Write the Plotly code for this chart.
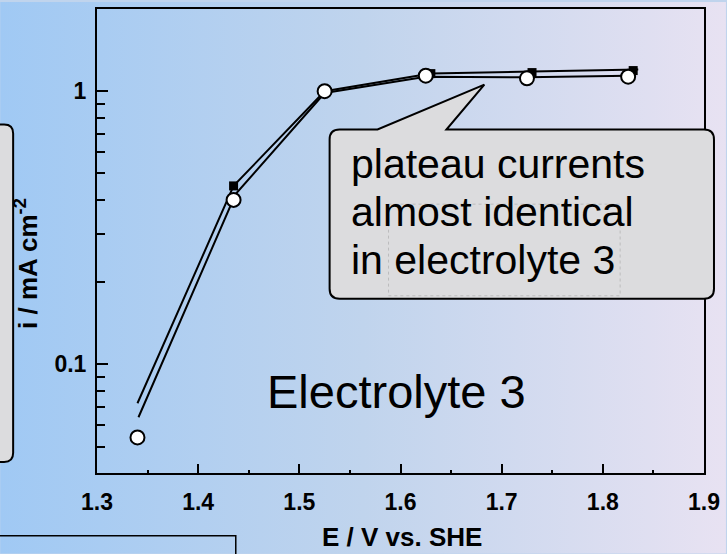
import base64
import plotly.graph_objects as go

# Measured current densities (mA cm^-2) vs. electrode potential (V vs. SHE)
E_circle = [1.34, 1.435, 1.525, 1.625, 1.725, 1.825]
i_circle = [0.054, 0.40, 1.00, 1.14, 1.115, 1.13]

E_square = [1.34, 1.435, 1.525, 1.63, 1.73, 1.83]
i_square = [0.053, 0.45, 1.00, 1.16, 1.17, 1.19]

# Connecting curves
E_curve_a = [1.34, 1.435, 1.525, 1.63, 1.73, 1.835]
i_curve_a = [0.072, 0.45, 1.00, 1.16, 1.18, 1.20]

E_curve_b = [1.341, 1.437, 1.525, 1.625, 1.725, 1.825]
i_curve_b = [0.064, 0.42, 0.985, 1.13, 1.125, 1.14]

x_ticks = [1.3, 1.4, 1.5, 1.6, 1.7, 1.8, 1.9]
x_tick_text = ["1.3", "1.4", "1.5", "1.6", "1.7", "1.8", "1.9"]
y_ticks = [0.1, 1]
y_tick_text = ["0.1", "1"]
y_minor = [0.05, 0.06, 0.07, 0.08, 0.09, 0.2, 0.3, 0.4, 0.5, 0.6, 0.7, 0.8, 0.9]

callout_lines = ["plateau currents", "almost identical", "in electrolyte 3"]
panel_label = "Electrolyte 3"

# page geometry (pixels)
WIDTH, HEIGHT = 727, 554
L, R, T, B = 97, 705, 7, 473
PW, PH = R - L, B - T


def px(x):
    return (x - L) / PW


def py(y):
    return (B - y) / PH


def rounded_box(x0, y0, x1, y1, r, notch=None):
    """SVG path (paper coords) for a rounded rectangle, optionally with a
    speech-bubble pointer on the top edge: notch = (xa, xb, tipx, tipy)."""
    pts = [f"M{px(x0 + r)},{py(y0)}"]
    if notch:
        xa, xb, tx, ty = notch
        pts += [f"L{px(xa)},{py(y0)}", f"L{px(tx)},{py(ty)}", f"L{px(xb)},{py(y0)}"]
    pts += [
        f"L{px(x1 - r)},{py(y0)}",
        f"Q{px(x1)},{py(y0)} {px(x1)},{py(y0 + r)}",
        f"L{px(x1)},{py(y1 - r)}",
        f"Q{px(x1)},{py(y1)} {px(x1 - r)},{py(y1)}",
        f"L{px(x0 + r)},{py(y1)}",
        f"Q{px(x0)},{py(y1)} {px(x0)},{py(y1 - r)}",
        f"L{px(x0)},{py(y0 + r)}",
        f"Q{px(x0)},{py(y0)} {px(x0 + r)},{py(y0)}",
        "Z",
    ]
    return " ".join(pts)


# horizontal blue-to-lavender backdrop
svg = (
    f'<svg xmlns="http://www.w3.org/2000/svg" width="{WIDTH}" height="{HEIGHT}">'
    '<defs><linearGradient id="g" x1="0" y1="0" x2="1" y2="0">'
    '<stop offset="0" stop-color="#a0c9f4"/>'
    '<stop offset="0.5" stop-color="#c0d4ed"/>'
    '<stop offset="1" stop-color="#e8e2f2"/>'
    '</linearGradient></defs>'
    f'<rect width="{WIDTH}" height="{HEIGHT}" fill="url(#g)"/></svg>'
)
bg_src = "data:image/svg+xml;base64," + base64.b64encode(svg.encode()).decode()

FONT = "Liberation Sans, Arial, sans-serif"

fig = go.Figure()

fig.add_trace(go.Scatter(x=E_curve_a, y=i_curve_a, mode="lines",
                         line=dict(color="black", width=2), showlegend=False))
fig.add_trace(go.Scatter(x=E_curve_b, y=i_curve_b, mode="lines",
                         line=dict(color="black", width=2), showlegend=False))
fig.add_trace(go.Scatter(x=E_square, y=i_square, mode="markers",
                         marker=dict(symbol="square", size=9, color="black"),
                         showlegend=False))
fig.add_trace(go.Scatter(x=E_circle, y=i_circle, mode="markers",
                         marker=dict(symbol="circle", size=14, color="white",
                                     line=dict(color="black", width=2)),
                         showlegend=False))

shapes = [
    # speech-bubble callout
    dict(type="path", xref="paper", yref="paper",
         path=rounded_box(330, 128, 715, 298, 10, notch=(378, 447, 485, 83)),
         fillcolor="#dcdcde", line=dict(color="black", width=2), layer="above"),
    # faint dotted panel inside the callout
    dict(type="rect", xref="paper", yref="paper",
         x0=px(389), x1=px(621), y0=py(203), y1=py(295),
         line=dict(color="rgba(150,150,150,0.45)", width=1, dash="dot"),
         layer="above"),
    # box at the left edge
    dict(type="path", xref="paper", yref="paper",
         path=rounded_box(-20, 123, 13, 462, 9),
         fillcolor="#dcdcde", line=dict(color="black", width=2), layer="above"),
    # outlined box at the bottom-left
    dict(type="rect", xref="paper", yref="paper",
         x0=px(-10), x1=px(236), y0=py(570), y1=py(536),
         line=dict(color="black", width=1.5), fillcolor="rgba(0,0,0,0)",
         layer="above"),
]

annotations = []
for k, line in enumerate(callout_lines):
    annotations.append(
        dict(text=line, xref="paper", yref="paper", x=px(349), y=py(138 + 48 * k),
             xanchor="left", yanchor="top", align="left", showarrow=False,
             font=dict(family=FONT, size=41, color="black")))

annotations += [
    dict(text=panel_label, xref="paper", yref="paper", x=px(397), y=py(391),
         xanchor="center", yanchor="middle", showarrow=False,
         font=dict(family=FONT, size=47, color="black")),
    dict(text="i / mA cm<sup>-2</sup>", xref="paper", yref="paper",
         x=px(27), y=py(263), xanchor="center", yanchor="middle",
         textangle=-90, showarrow=False,
         font=dict(family=FONT, size=26, color="black", weight="bold")),
    dict(text="E / V vs. SHE", xref="paper", yref="paper",
         x=px(403), y=py(554), xanchor="center", yanchor="bottom",
         showarrow=False,
         font=dict(family=FONT, size=26, color="black", weight="bold")),
]

fig.update_layout(
    width=WIDTH, height=HEIGHT,
    margin=dict(l=L, r=WIDTH - R, t=T, b=HEIGHT - B, pad=0),
    paper_bgcolor="#c0d4ed",
    plot_bgcolor="rgba(0,0,0,0)",
    shapes=shapes,
    annotations=annotations,
    images=[dict(source=bg_src, xref="paper", yref="paper",
                 x=px(0), y=py(0), sizex=WIDTH / PW, sizey=HEIGHT / PH,
                 xanchor="left", yanchor="top", sizing="stretch",
                 layer="below")],
    xaxis=dict(
        range=[1.3, 1.9], tickmode="array", tickvals=x_ticks, ticktext=x_tick_text,
        ticks="inside", ticklen=9, tickwidth=2, tickcolor="black",
        showline=True, linecolor="black", linewidth=2, mirror=True,
        showgrid=False, zeroline=False, ticklabelstandoff=7,
        tickfont=dict(family=FONT, size=23, color="black", weight="bold"),
        minor=dict(dtick=0.05, tick0=1.3, ticks="inside", ticklen=3,
                   tickwidth=2, tickcolor="black", showgrid=False),
    ),
    yaxis=dict(
        type="log", range=[-1.398, 0.301], tickmode="array",
        tickvals=y_ticks, ticktext=y_tick_text,
        ticks="inside", ticklen=11, tickwidth=2, tickcolor="black",
        showline=True, linecolor="black", linewidth=2, mirror=True,
        showgrid=False, zeroline=False, ticklabelstandoff=4,
        tickfont=dict(family=FONT, size=23, color="black", weight="bold"),
        minor=dict(tickmode="array", tickvals=y_minor, ticks="inside",
                   ticklen=8, tickwidth=2, tickcolor="black", showgrid=False),
    ),
)

fig.write_html("out.html")
